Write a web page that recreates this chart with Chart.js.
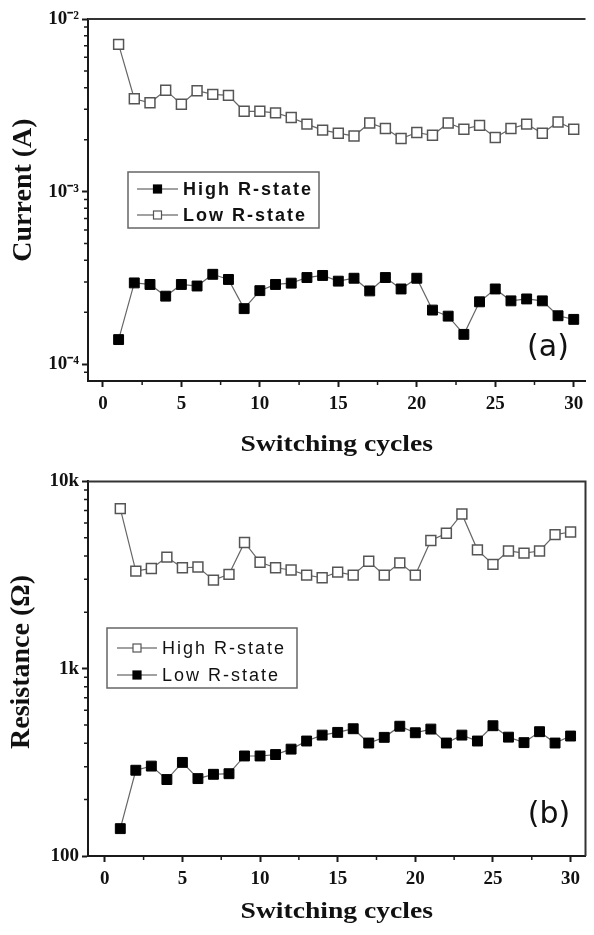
<!DOCTYPE html>
<html lang="en">
<head>
<meta charset="UTF-8" />
<title>Switching cycles</title>
<script src="https://cdn.jsdelivr.net/npm/chart.js"></script>
<style>
  body { margin: 0; background: #fff; }
  .panel { position: absolute; left: 0; width: 594px; }
  #boxA { top: 0; height: 467px; }
  #boxB { top: 467px; height: 468px; }
</style>
</head>
<body>
<div class="panel" id="boxA"><canvas id="chartA" width="594" height="467"></canvas></div>
<div class="panel" id="boxB"><canvas id="chartB" width="594" height="468"></canvas></div>

<script>
// data
const cycles = [1, 2, 3, 4, 5, 6, 7, 8, 9, 10, 11, 12, 13, 14, 15, 16, 17, 18, 19, 20, 21, 22, 23, 24, 25, 26, 27, 28, 29, 30];

// (a) current, A
const currentHigh = [1.39e-4, 2.96e-4, 2.90e-4, 2.48e-4, 2.90e-4, 2.84e-4, 3.32e-4, 3.10e-4, 2.10e-4, 2.67e-4,
                     2.90e-4, 2.95e-4, 3.18e-4, 3.27e-4, 3.03e-4, 3.15e-4, 2.66e-4, 3.18e-4, 2.73e-4, 3.15e-4,
                     2.06e-4, 1.90e-4, 1.49e-4, 2.30e-4, 2.73e-4, 2.33e-4, 2.39e-4, 2.33e-4, 1.91e-4, 1.82e-4];
const currentLow = [7.13e-3, 3.45e-3, 3.27e-3, 3.87e-3, 3.21e-3, 3.84e-3, 3.66e-3, 3.61e-3, 2.92e-3, 2.92e-3,
                    2.86e-3, 2.69e-3, 2.46e-3, 2.27e-3, 2.18e-3, 2.10e-3, 2.50e-3, 2.32e-3, 2.03e-3, 2.20e-3,
                    2.12e-3, 2.50e-3, 2.30e-3, 2.42e-3, 2.06e-3, 2.32e-3, 2.46e-3, 2.18e-3, 2.53e-3, 2.30e-3];

// (b) resistance, ohm
const resHigh = [7160, 3320, 3430, 3940, 3460, 3490, 2970, 3190, 4720, 3700,
                 3460, 3365, 3160, 3060, 3280, 3160, 3750, 3160, 3675, 3160,
                 4840, 5285, 6700, 4310, 3605, 4250, 4140, 4250, 5200, 5370];
const resLow = [140, 287, 302, 256, 316, 259, 273, 275, 342, 342,
                348, 372, 411, 442, 457, 478, 401, 430, 493, 455,
                476, 401, 442, 411, 496, 431, 403, 461, 401, 437];

// axes
const xTicks = [0, 5, 10, 15, 20, 25, 30];
const xMinor = [2.5, 7.5, 12.5, 17.5, 22.5, 27.5];
const yTicksA = [1e-4, 1e-3, 1e-2];
const yLabelsA = ['10\u207B\u2074', '10\u207B\u00B3', '10\u207B\u00B2'];
const yTicksB = [100, 1000, 10000];
const yLabelsB = ['100', '1k', '10k'];

function decadeMinor(from, to) {
    const out = [];
    for (let d = from; d < to; d *= 10) {
        for (let m = 2; m <= 9; m++) out.push(m * d);
    }
    return out;
}
const yMinorA = [9e-5].concat(decadeMinor(1e-4, 1e-2));
const yMinorB = decadeMinor(100, 10000);

const pts = (ys) => cycles.map((c, i) => ({ x: c, y: ys[i] }));

const serif = '"Liberation Serif", "Times New Roman", serif';
const sans = '"Liberation Sans", Arial, sans-serif';
const axisColor = '#1a1a1a';

// frame, minor ticks, titles, boxed legend and panel tag
const decor = {
    id: 'decor',
    afterDraw(chart, args, o) {
        const ctx = chart.ctx;
        const a = chart.chartArea;
        const xs = chart.scales.x, ys = chart.scales.y;
        ctx.save();

        ctx.strokeStyle = '#333';
        ctx.lineWidth = 2;
        ctx.beginPath();
        ctx.moveTo(a.left, a.top);
        ctx.lineTo(a.right, a.top);
        if (o.rightFrame) ctx.lineTo(a.right, a.bottom);
        ctx.stroke();

        ctx.strokeStyle = axisColor;
        ctx.lineWidth = 1.5;
        ctx.beginPath();
        xMinor.forEach(v => {
            const px = xs.getPixelForValue(v);
            ctx.moveTo(px, a.bottom);
            ctx.lineTo(px, a.bottom + 4);
        });
        o.yMinor.forEach(v => {
            const py = ys.getPixelForValue(v);
            ctx.moveTo(a.left, py);
            ctx.lineTo(a.left - 4, py);
        });
        ctx.stroke();

        // axis titles
        ctx.fillStyle = '#111';
        ctx.textAlign = 'center';
        ctx.textBaseline = 'middle';
        ctx.font = 'bold 24px ' + serif;
        ctx.save();
        ctx.translate((a.left + a.right) / 2, o.xTitleY);
        ctx.scale(1.15, 1);
        ctx.fillText('Switching cycles', 0, 0);
        ctx.restore();

        ctx.font = 'bold 28px ' + serif;
        ctx.save();
        ctx.translate(o.yTitleX, o.yTitleY);
        ctx.rotate(-Math.PI / 2);
        ctx.fillText(o.yTitle, 0, 0);
        ctx.restore();

        // legend
        const lg = o.legend;
        ctx.strokeStyle = '#666';
        ctx.lineWidth = 1.5;
        ctx.strokeRect(lg.x, lg.y, lg.w, lg.h);
        chart.data.datasets.forEach((ds, i) => {
            const cy = lg.rowY[i];
            ctx.strokeStyle = '#444';
            ctx.lineWidth = 1.2;
            ctx.beginPath();
            ctx.moveTo(lg.line[0], cy);
            ctx.lineTo(lg.line[1], cy);
            ctx.stroke();
            const mx = (lg.line[0] + lg.line[1]) / 2;
            ctx.fillStyle = ds.pointBackgroundColor;
            ctx.fillRect(mx - 4, cy - 4, 8, 8);
            ctx.strokeStyle = ds.pointBorderColor;
            ctx.strokeRect(mx - 4, cy - 4, 8, 8);
            ctx.fillStyle = '#111';
            ctx.textAlign = 'left';
            ctx.font = lg.font;
            ctx.letterSpacing = lg.spacing;
            ctx.fillText(ds.label, lg.textX, cy + 1);
            ctx.letterSpacing = '0px';
        });

        ctx.fillStyle = '#111';
        ctx.textAlign = 'center';
        ctx.font = '30px "DejaVu Sans", sans-serif';
        ctx.fillText(o.tag, o.tagX, o.tagY);

        ctx.restore();
    }
};

function filledSet(label, ys) {
    return {
        label: label, data: pts(ys),
        borderColor: '#666', borderWidth: 1.2,
        pointStyle: 'rect', pointRadius: 7,
        pointBackgroundColor: '#000', pointBorderColor: '#000', pointBorderWidth: 1
    };
}
function openSet(label, ys) {
    return {
        label: label, data: pts(ys),
        borderColor: '#666', borderWidth: 1.2,
        pointStyle: 'rect', pointRadius: 7,
        pointBackgroundColor: '#fff', pointBorderColor: '#555', pointBorderWidth: 1.5
    };
}

function makeChart(id, datasets, cfg) {
    return new Chart(document.getElementById(id), {
        type: 'line',
        data: { datasets: datasets },
        plugins: [decor],
        options: {
            responsive: false,
            animation: false,
            devicePixelRatio: 1,
            layout: { padding: { top: cfg.top, right: 2, bottom: 0, left: 0 } },
            plugins: {
                legend: { display: false },
                tooltip: { enabled: false },
                decor: cfg.decor
            },
            scales: {
                x: {
                    type: 'linear',
                    min: cfg.xMin, max: cfg.xMax,
                    afterBuildTicks: s => { s.ticks = xTicks.map(v => ({ value: v })); },
                    afterFit: s => { s.height = cfg.xHeight; },
                    grid: { drawOnChartArea: false, drawTicks: true, tickLength: 6, tickWidth: 2, tickColor: axisColor },
                    border: { color: axisColor, width: 2 },
                    ticks: {
                        autoSkip: false, maxRotation: 0, padding: 6, color: '#111',
                        font: { family: serif, weight: 'bold', size: 19 }
                    }
                },
                y: {
                    type: 'logarithmic',
                    min: cfg.yMin, max: cfg.yMax,
                    afterBuildTicks: s => { s.ticks = cfg.yTicks.map(v => ({ value: v })); },
                    afterFit: s => { s.width = 88; },
                    grid: { drawOnChartArea: false, drawTicks: true, tickLength: 6, tickWidth: 2, tickColor: axisColor },
                    border: { color: axisColor, width: 2 },
                    ticks: {
                        autoSkip: false, padding: 3, color: '#111',
                        font: { family: serif, weight: 'bold', size: 19 },
                        callback: (v, i) => cfg.yLabels[i]
                    }
                }
            }
        }
    });
}

makeChart('chartA', [filledSet('High R-state', currentHigh), openSet('Low R-state', currentLow)], {
    top: 19, xHeight: 86,
    xMin: -0.95, xMax: 30.75, yMin: 8e-5, yMax: 1e-2,
    yTicks: yTicksA, yLabels: yLabelsA,
    decor: {
        yTitle: 'Current (A)', yTitleX: 24, yTitleY: 190, xTitleY: 445,
        yMinor: yMinorA, rightFrame: false,
        legend: {
            x: 128, y: 172, w: 191, h: 56, rowY: [189, 215], line: [137, 178], textX: 183,
            font: 'bold 18px ' + sans, spacing: '2px'
        },
        tag: '(a)', tagX: 548, tagY: 348
    }
});

makeChart('chartB', [openSet('High R-state', resHigh), filledSet('Low R-state', resLow)], {
    top: 13, xHeight: 79,
    xMin: -1.08, xMax: 30.96, yMin: 100, yMax: 10000,
    yTicks: yTicksB, yLabels: yLabelsB,
    decor: {
        yTitle: 'Resistance (\u03A9)', yTitleX: 22, yTitleY: 195, xTitleY: 445,
        yMinor: yMinorB, rightFrame: true,
        legend: {
            x: 107, y: 161, w: 190, h: 60, rowY: [181, 208], line: [117, 157], textX: 162,
            font: '18px ' + sans, spacing: '2px'
        },
        tag: '(b)', tagX: 549, tagY: 348
    }
});
</script>
</body>
</html>
